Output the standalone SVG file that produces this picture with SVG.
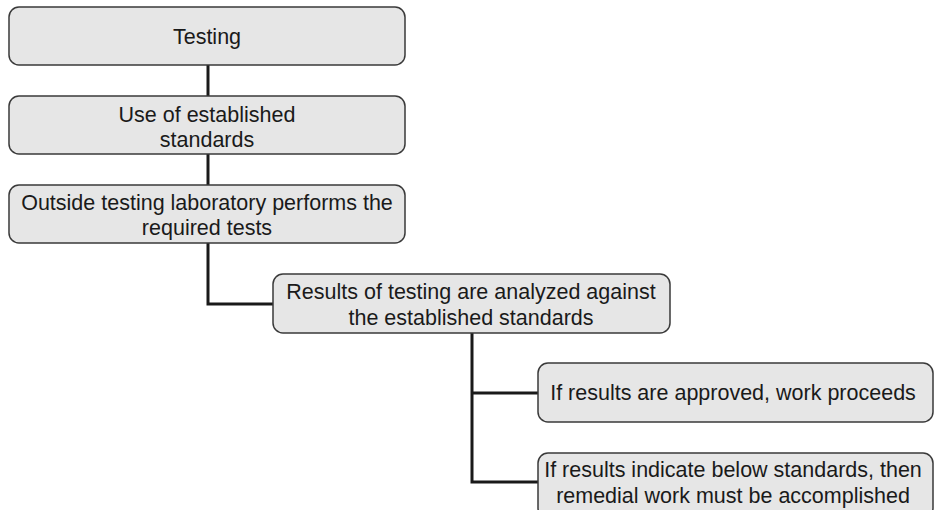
<svg xmlns="http://www.w3.org/2000/svg" width="937" height="510" viewBox="0 0 937 510">
  <style>
    .box { fill: #e6e6e6; stroke: #3a3a3a; stroke-width: 1.5; }
    .lbl { font-family: "Liberation Sans", Arial, sans-serif; font-size: 21.5px; fill: #1a1a1a; text-anchor: middle; }
    .link { fill: none; stroke: #1a1a1a; stroke-width: 3; }
  </style>
  <rect width="937" height="510" fill="#ffffff"/>

  <g id="connectors">
    <line class="link" x1="208" y1="65" x2="208" y2="96"/>
    <line class="link" x1="208" y1="154" x2="208" y2="185"/>
    <polyline class="link" points="208,243 208,304 273,304"/>
    <polyline class="link" points="472,333 472,482 538,482"/>
    <line class="link" x1="472" y1="393" x2="538" y2="393"/>
  </g>

  <g id="node-testing">
    <rect class="box" x="9" y="7" width="396" height="58" rx="10"/>
    <text class="lbl" x="207" y="44">Testing</text>
  </g>

  <g id="node-standards">
    <rect class="box" x="9" y="96" width="396" height="58" rx="10"/>
    <text class="lbl" x="207" y="122">Use of established</text>
    <text class="lbl" x="207" y="147">standards</text>
  </g>

  <g id="node-laboratory">
    <rect class="box" x="9" y="185" width="396" height="58" rx="10"/>
    <text class="lbl" x="207" y="210">Outside testing laboratory performs the</text>
    <text class="lbl" x="207" y="235">required tests</text>
  </g>

  <g id="node-analysis">
    <rect class="box" x="273" y="274" width="397" height="59" rx="10"/>
    <text class="lbl" x="471" y="299">Results of testing are analyzed against</text>
    <text class="lbl" x="471" y="325">the established standards</text>
  </g>

  <g id="node-approved">
    <rect class="box" x="538" y="363" width="395" height="59" rx="10"/>
    <text class="lbl" x="733" y="400">If results are approved, work proceeds</text>
  </g>

  <g id="node-remedial">
    <rect class="box" x="538" y="453" width="395" height="65" rx="10"/>
    <text class="lbl" x="733" y="477">If results indicate below standards, then</text>
    <text class="lbl" x="733" y="503">remedial work must be accomplished</text>
  </g>
</svg>
